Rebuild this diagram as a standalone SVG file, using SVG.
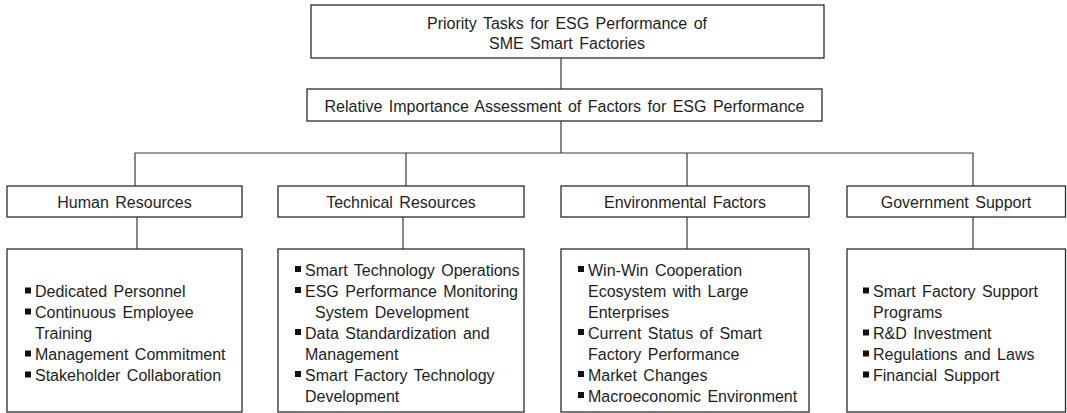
<svg xmlns="http://www.w3.org/2000/svg" width="1067" height="413" viewBox="0 0 1067 413">
  <style>
    .box { fill: #ffffff; stroke: #2b2b2b; stroke-width: 1.3; }
    .link { fill: none; stroke: #3a3a3a; stroke-width: 1.2; }
    text { font-family: "Liberation Sans", Arial, sans-serif; font-size: 16px; fill: #1e1e1e; word-spacing: 2px; }
    .c { text-anchor: middle; }
    .blt { fill: #111111; }
  </style>
  <defs>
    <rect id="bullet" class="blt" width="6" height="6"/>
  </defs>

  <rect width="1067" height="413" fill="#ffffff"/>

  <!-- connectors -->
  <g id="connectors">
    <path class="link" d="M561 58 V89"/>
    <path class="link" d="M561 121 V153"/>
    <path class="link" d="M135 186 V153 H973 V186"/>
    <path class="link" d="M406 153 V186"/>
    <path class="link" d="M687 153 V186"/>
    <path class="link" d="M137 217 V249"/>
    <path class="link" d="M403 217 V249"/>
    <path class="link" d="M687 217 V249"/>
    <path class="link" d="M973 217 V249"/>
  </g>

  <!-- top goal -->
  <g id="goal">
    <rect class="box" x="311" y="5" width="513" height="53"/>
    <text class="c" x="567" y="28.5">Priority Tasks for ESG Performance of</text>
    <text class="c" x="567" y="49">SME Smart Factories</text>
  </g>

  <!-- assessment level -->
  <g id="assessment">
    <rect class="box" x="307" y="89" width="515" height="32"/>
    <text class="c" x="564.5" y="111.5">Relative Importance Assessment of Factors for ESG Performance</text>
  </g>

  <!-- factor categories -->
  <g id="human-resources">
    <rect class="box" x="7" y="186" width="235" height="31"/>
    <text class="c" x="124.5" y="208">Human Resources</text>
  </g>
  <g id="technical-resources">
    <rect class="box" x="278" y="186" width="246" height="31"/>
    <text class="c" x="401" y="208">Technical Resources</text>
  </g>
  <g id="environmental-factors">
    <rect class="box" x="561" y="186" width="248" height="31"/>
    <text class="c" x="685" y="208">Environmental Factors</text>
  </g>
  <g id="government-support">
    <rect class="box" x="847" y="186" width="218.5" height="31"/>
    <text class="c" x="956" y="208">Government Support</text>
  </g>

  <!-- factor details -->
  <g id="human-resources-items">
    <rect class="box" x="7" y="249" width="235" height="163"/>
    <use href="#bullet" x="25" y="287.5"/>
    <text x="35" y="297">Dedicated Personnel</text>
    <use href="#bullet" x="25" y="308.5"/>
    <text x="35" y="318">Continuous Employee</text>
    <text x="35" y="339">Training</text>
    <use href="#bullet" x="25" y="350.5"/>
    <text x="35" y="360">Management Commitment</text>
    <use href="#bullet" x="25" y="371.5"/>
    <text x="35" y="381">Stakeholder Collaboration</text>
  </g>

  <g id="technical-resources-items">
    <rect class="box" x="278" y="249" width="246" height="163"/>
    <use href="#bullet" x="295" y="266"/>
    <text x="305" y="275.5">Smart Technology Operations</text>
    <use href="#bullet" x="295" y="287"/>
    <text x="305" y="296.5">ESG Performance Monitoring</text>
    <text x="315" y="317.5">System Development</text>
    <use href="#bullet" x="295" y="329"/>
    <text x="305" y="338.5">Data Standardization and</text>
    <text x="305" y="359.5">Management</text>
    <use href="#bullet" x="295" y="371"/>
    <text x="305" y="380.5">Smart Factory Technology</text>
    <text x="305" y="401.5">Development</text>
  </g>

  <g id="environmental-factors-items">
    <rect class="box" x="561" y="249" width="248" height="163"/>
    <use href="#bullet" x="578" y="266"/>
    <text x="588" y="275.5">Win-Win Cooperation</text>
    <text x="588" y="296.5">Ecosystem with Large</text>
    <text x="588" y="317.5">Enterprises</text>
    <use href="#bullet" x="578" y="329"/>
    <text x="588" y="338.5">Current Status of Smart</text>
    <text x="588" y="359.5">Factory Performance</text>
    <use href="#bullet" x="578" y="371"/>
    <text x="588" y="380.5">Market Changes</text>
    <use href="#bullet" x="578" y="392"/>
    <text x="588" y="401.5">Macroeconomic Environment</text>
  </g>

  <g id="government-support-items">
    <rect class="box" x="847" y="249" width="218.5" height="163"/>
    <use href="#bullet" x="863" y="287.5"/>
    <text x="873" y="297">Smart Factory Support</text>
    <text x="873" y="318">Programs</text>
    <use href="#bullet" x="863" y="329.5"/>
    <text x="873" y="339">R&amp;D Investment</text>
    <use href="#bullet" x="863" y="350.5"/>
    <text x="873" y="360">Regulations and Laws</text>
    <use href="#bullet" x="863" y="371.5"/>
    <text x="873" y="381">Financial Support</text>
  </g>
</svg>
